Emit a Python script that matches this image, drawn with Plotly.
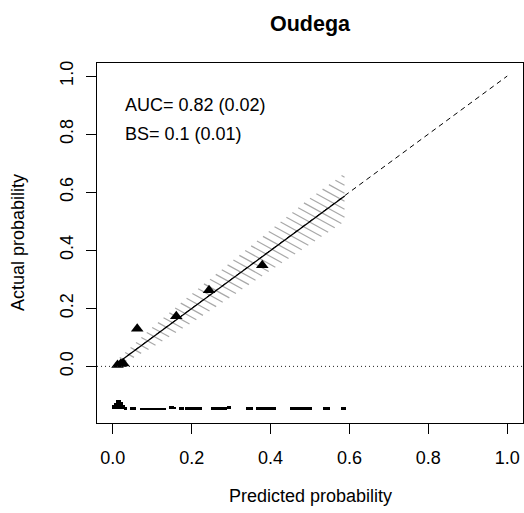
import numpy as np
import plotly.graph_objects as go

# ---------------- data ----------------
title = "Oudega"
auc_text = "AUC= 0.82 (0.02)"
bs_text = "BS= 0.1 (0.01)"

# grouped observations (triangles)
obs_x = [0.012, 0.020, 0.027, 0.062, 0.161, 0.244, 0.379]
obs_y = [0.005, 0.008, 0.010, 0.130, 0.173, 0.262, 0.348]

# calibration line
cal_x = [0.003, 0.588]
cal_y = [0.002, 0.587]

# confidence band (hatched)
band_x = [0.005, 0.10, 0.20, 0.30, 0.40, 0.50, 0.588]
band_lo = [-0.005, 0.065, 0.150, 0.240, 0.330, 0.420, 0.500]
band_hi = [0.015, 0.135, 0.250, 0.360, 0.470, 0.580, 0.665]

# distribution of predicted risks (spike histogram), bin left edges / counts
hist_x = [0.000, 0.005, 0.010, 0.015, 0.020, 0.025, 0.030,
          0.045, 0.050, 0.055,
          0.070, 0.075, 0.080, 0.085, 0.090, 0.095, 0.100, 0.105, 0.110,
          0.115, 0.120, 0.125, 0.130,
          0.145, 0.150, 0.155,
          0.170, 0.175,
          0.185, 0.190, 0.195, 0.200, 0.205, 0.210, 0.215, 0.220,
          0.250, 0.255, 0.260, 0.265, 0.270, 0.275, 0.280, 0.285, 0.290, 0.295,
          0.340, 0.345, 0.350,
          0.365, 0.370, 0.375, 0.380, 0.385, 0.390, 0.395, 0.400, 0.405, 0.410,
          0.450, 0.455, 0.460, 0.465, 0.470, 0.475, 0.480, 0.485, 0.490, 0.495, 0.500,
          0.535, 0.540, 0.545,
          0.580, 0.585]
hist_f = [4, 6, 9, 9, 7, 4, 2,
          2, 2, 2,
          1.5, 1.5, 1.5, 1.5, 1.5, 1.5, 1.5, 1.5, 1.5,
          1.5, 1.5, 1.5, 1.5,
          3, 3, 2.5,
          2, 2,
          2, 2, 2, 2, 2, 2, 2, 2,
          2, 2, 2, 2, 2, 2, 2, 2, 3, 3,
          2, 2, 2,
          2, 2, 2, 2, 2, 2, 2, 2, 2, 2,
          2, 2, 2, 2, 2, 2, 2, 2, 2, 2, 2,
          2, 2, 2,
          2, 2]
hist_base = -0.148
hist_unit = 0.0034
hist_w = 0.005

x_ticks = [0.0, 0.2, 0.4, 0.6, 0.8, 1.0]
y_ticks = [0.0, 0.2, 0.4, 0.6, 0.8, 1.0]

# ---------------- layout geometry ----------------
W, H = 524, 513
L, R, T, B = 97, 1, 63, 90
xr = [-0.04, 1.04]
yr = [-0.195, 1.045]
pw, ph = W - L - R, H - T - B

def to_px(x):
    return L + (np.asarray(x) - xr[0]) / (xr[1] - xr[0]) * pw

def to_py(y):
    return T + (yr[1] - np.asarray(y)) / (yr[1] - yr[0]) * ph

def from_px(px):
    return xr[0] + (np.asarray(px) - L) / pw * (xr[1] - xr[0])

def from_py(py):
    return yr[1] - (np.asarray(py) - T) / ph * (yr[1] - yr[0])

# hatch segments clipped to the band
slope = 0.55      # screen slope (down-right)
step = 8.0        # spacing (px) of the hatch lines
bx = np.array(band_x)
lo = np.array(band_lo)
hi = np.array(band_hi)
verts_x = np.concatenate([to_px(bx), to_px(bx)])
verts_y = np.concatenate([to_py(lo), to_py(hi)])
cvals = verts_y - slope * verts_x
xs_s = np.arange(to_px(bx[0]), to_px(bx[-1]) + 0.01, 0.2)
hx, hy = [], []
c = cvals.min() + step / 2
while c < cvals.max():
    ys_s = slope * xs_s + c
    dx = from_px(xs_s)
    dy = from_py(ys_s)
    inside = (dy >= np.interp(dx, bx, lo)) & (dy <= np.interp(dx, bx, hi))
    idx = np.where(inside)[0]
    if len(idx) > 1:
        i0, i1 = idx[0], idx[-1]
        hx += [dx[i0], dx[i1], None]
        hy += [dy[i0], dy[i1], None]
    c += step

fig = go.Figure()

fig.add_trace(go.Scatter(x=hx, y=hy, mode="lines",
                         line=dict(color="#a8a8a8", width=1.2),
                         hoverinfo="skip", showlegend=False))

fig.add_trace(go.Scatter(x=[0, 1], y=[0, 1], mode="lines",
                         line=dict(color="black", width=1, dash="5px,4px"),
                         showlegend=False))

fig.add_trace(go.Scatter(x=cal_x, y=cal_y, mode="lines",
                         line=dict(color="black", width=1.3),
                         showlegend=False))

fig.add_trace(go.Scatter(x=obs_x, y=obs_y, mode="markers",
                         marker=dict(symbol="triangle-up", size=11, color="black"),
                         showlegend=False))

fig.add_trace(go.Bar(x=[v + hist_w / 2 for v in hist_x],
                     y=[f * hist_unit for f in hist_f],
                     base=hist_base, width=hist_w,
                     marker=dict(color="black", line=dict(width=0)),
                     showlegend=False))

fig.add_shape(type="line", xref="paper", yref="y", x0=0, x1=1, y0=0, y1=0,
              line=dict(color="#222222", width=1, dash="1px,3px"))

font = "Liberation Sans, Arial, Helvetica, sans-serif"
fig.add_annotation(x=0.026, y=0.9, xref="x", yref="y", text=auc_text,
                   showarrow=False, xanchor="left", yanchor="middle",
                   font=dict(size=18, color="black", family=font))
fig.add_annotation(x=0.026, y=0.8, xref="x", yref="y", text=bs_text,
                   showarrow=False, xanchor="left", yanchor="middle",
                   font=dict(size=18, color="black", family=font))
fig.add_annotation(x=0.5, y=(T + ph - 24) / ph, xref="paper", yref="paper",
                   text="<b>" + title + "</b>", showarrow=False,
                   xanchor="center", yanchor="middle",
                   font=dict(size=21.5, color="black", family=font))
fig.add_annotation(x=0.5, y=(T + ph - 496) / ph, xref="paper", yref="paper",
                   text="Predicted probability", showarrow=False,
                   xanchor="center", yanchor="middle",
                   font=dict(size=18, color="black", family=font))
fig.add_annotation(x=(18 - L) / pw, y=0.5, xref="paper", yref="paper",
                   text="Actual probability", showarrow=False, textangle=-90,
                   xanchor="center", yanchor="middle",
                   font=dict(size=18, color="black", family=font))

fig.update_layout(
    width=W, height=H,
    margin=dict(l=L, r=R, t=T, b=B, pad=0),
    paper_bgcolor="white", plot_bgcolor="white",
    font=dict(family=font, size=18, color="black"),
    showlegend=False,
    bargap=0,
)
fig.update_xaxes(range=xr, tickvals=x_ticks, ticktext=[f"{v:.1f}" for v in x_ticks],
                 showgrid=False, zeroline=False, showline=True, linecolor="black",
                 linewidth=1, mirror=True, ticks="outside", ticklen=10,
                 tickcolor="black", tickfont=dict(size=18), ticklabelstandoff=8)
fig.update_yaxes(range=yr, tickvals=y_ticks, ticktext=[f"{v:.1f}" for v in y_ticks],
                 showgrid=False, zeroline=False, showline=True, linecolor="black",
                 linewidth=1, mirror=True, ticks="outside", ticklen=10,
                 tickcolor="black", tickangle=-90, tickfont=dict(size=18),
                 ticklabelstandoff=6)

fig.write_html("out.html")
